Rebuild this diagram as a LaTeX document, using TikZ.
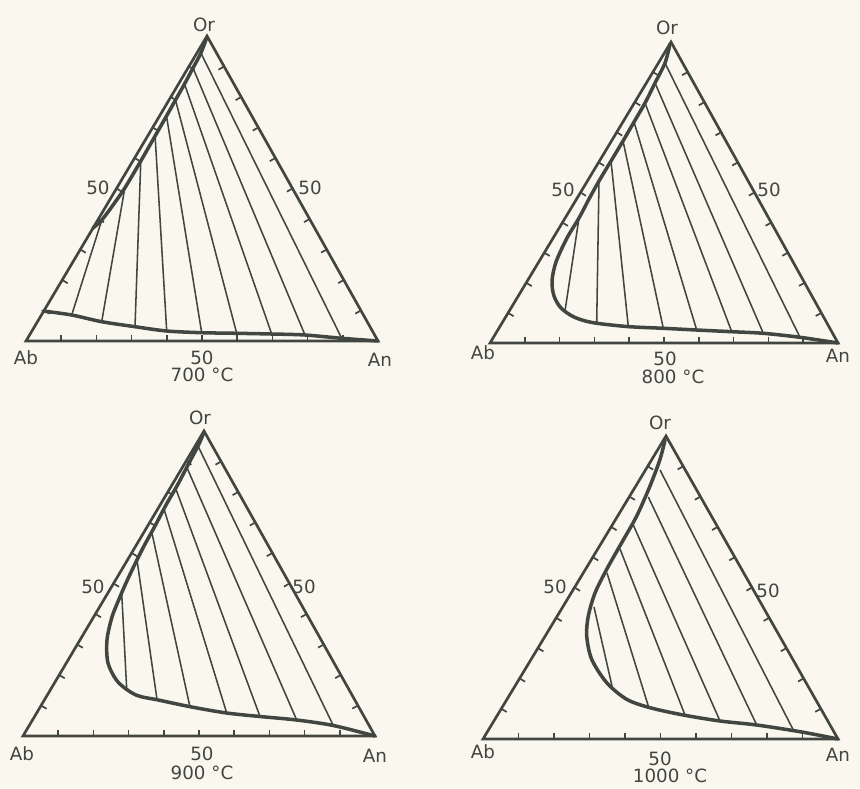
\documentclass[tikz,border=0pt]{standalone}
\usepackage{fontspec}
\setmainfont{DejaVu Sans}
\usepackage{tikz}
\usetikzlibrary{calc}
\definecolor{paper}{RGB}{250,248,238}
\definecolor{ink}{RGB}{66,70,64}

\begin{document}
\begin{tikzpicture}[
    x=0.025cm, y=-0.025cm,
    triside/.style={draw=ink, line width=1.9pt, line join=miter},
    tickmark/.style={draw=ink, line width=1.2pt},
    solvus/.style={draw=ink, line width=2.5pt, line cap=round, line join=round},
    tie/.style={draw=ink, line width=1.1pt},
    axislabel/.style={text=ink, font=\fontsize{13}{15}\selectfont, inner sep=0pt}
]
% Paper
\fill[paper] (0,0) rectangle (860,788);

% Corners
\coordinate (ab1) at (26,341);  \coordinate (an1) at (378,341); \coordinate (or1) at (207,36);
\coordinate (ab2) at (490,343); \coordinate (an2) at (838,343); \coordinate (or2) at (671,42);
\coordinate (ab3) at (23,736);  \coordinate (an3) at (375,736); \coordinate (or3) at (204,431);
\coordinate (ab4) at (483,739); \coordinate (an4) at (838,739); \coordinate (or4) at (666,436);

% Triangles and ticks
\foreach \t in {1,2,3,4} {
  \draw[triside] (ab\t) -- (an\t) -- (or\t) -- cycle;
  \foreach \i in {1,...,9} {
    \draw[tickmark] ($(ab\t)!\i/10!(an\t)$) -- ($(ab\t)!\i/10!(an\t)!0.16cm!90:(an\t)$);
    \draw[tickmark] ($(an\t)!\i/10!(or\t)$) -- ($(an\t)!\i/10!(or\t)!0.16cm!90:(or\t)$);
    \draw[tickmark] ($(or\t)!\i/10!(ab\t)$) -- ($(or\t)!\i/10!(ab\t)!0.16cm!90:(ab\t)$);
  }
}

% 700 °C
\draw[solvus] plot[smooth] coordinates {(93,228) (101.8,220) (114.5,203) (124.8,188) (140.8,161) (155.1,136) (166.5,116) (175.5,100) (184.5,84) (193,68) (200.9,53) (207,37)};
\draw[solvus] plot[smooth] coordinates {(43,311) (71.7,315) (101.7,321.7) (135,326.7) (166.7,331) (201.7,332.7) (236.7,333.3) (271.7,334) (305,335) (341.7,338.3) (378,341)};
\foreach \xa/\ya/\xb/\yb in {71.7/315/101.8/220, 101.7/321.7/124.8/188, 135/326.7/140.8/161,
    166.7/331/155.1/136, 201.7/332.7/166.5/116, 236.7/333.3/175.5/100, 271.7/334/184.5/84,
    305/335/193/68, 341.7/338.3/200.9/53}
  \draw[tie] (\xa,\ya) -- (\xb,\yb);

% 800 °C
\draw[solvus] plot[smooth] coordinates {(670,44) (665,63) (655,83) (645,103) (634,122) (623,141) (611,161) (599,181) (589,199) (579,218) (567,238) (556,262) (552,281) (554,296) (561,308) (574,317) (592,322.5) (626.7,326.5) (663.3,328.3) (696.7,330) (731.7,331.7) (763.3,333.3) (800,337.3) (838,343)};
\foreach \xa/\ya/\xb/\yb in {565/311/579/218, 596.7/322.8/599/181, 628.3/326.6/611/161,
    663.3/328.3/623/141, 696.7/330/634/122, 731.7/331.7/645/103, 763.3/333.3/655/83,
    800/337.3/665/63}
  \draw[tie] (\xa,\ya) -- (\xb,\yb);

% 900 °C
\draw[solvus] plot[smooth] coordinates {(204,432) (199,444) (189,463) (177.5,485) (166,505) (155,526) (144,546) (134,566) (126,583) (119.5,598) (112,617) (107,640) (108,663) (118,682) (136,695) (158.3,700) (191.7,707) (226.7,713) (260,716.5) (296.7,720) (333.3,725.5) (375,736)};
\foreach \xa/\ya/\xb/\yb in {126.7/689/121.7/593, 157/699.5/137/560, 190/707/151.7/532,
    226.7/713/164/509, 260/716.5/175.5/488, 296.7/720/186.7/467, 333.3/725.5/198/446}
  \draw[tie] (\xa,\ya) -- (\xb,\yb);

% 1000 °C
\draw[solvus] plot[smooth] coordinates {(665,440) (660,459.3) (650,486) (636.7,516) (621.7,542.7) (606.7,569.3) (595,593) (588.3,616) (586.7,636) (591.7,659.3) (606.7,682.7) (626.7,699.3) (650,707.7) (683.3,715) (720,721) (756.7,725) (801.7,732) (838,739)};
\foreach \xa/\ya/\xb/\yb in {612/686/594/607, 648.3/706/607/573, 685/715/620/549,
    720/721/633.3/525, 756.7/725/648.3/497, 793.3/730/660/470}
  \draw[tie] (\xa,\ya) -- (\xb,\yb);

% Labels
\node[axislabel] (tor1) at (204,25) {Or};
\node[axislabel] (tab1) at (26,358) {Ab};
\node[axislabel] (tan1) at (380,360) {An};
\node[axislabel] (bfifty1) at (202,358) {50};
\node[axislabel] (lfifty1) at (98,188) {50};
\node[axislabel] (rfifty1) at (310,188) {50};
\node[axislabel] (temp1) at (202,375) {700 °C};

\node[axislabel] (tor2) at (667,28) {Or};
\node[axislabel] (tab2) at (483,353) {Ab};
\node[axislabel] (tan2) at (838,356) {An};
\node[axislabel] (bfifty2) at (665,359) {50};
\node[axislabel] (lfifty2) at (563,190) {50};
\node[axislabel] (rfifty2) at (769,190) {50};
\node[axislabel] (temp2) at (673,377) {800 °C};

\node[axislabel] (tor3) at (200,418) {Or};
\node[axislabel] (tab3) at (22,754) {Ab};
\node[axislabel] (tan3) at (375,756) {An};
\node[axislabel] (bfifty3) at (202,754) {50};
\node[axislabel] (lfifty3) at (93,587) {50};
\node[axislabel] (rfifty3) at (304,587) {50};
\node[axislabel] (temp3) at (202,773) {900 °C};

\node[axislabel] (tor4) at (660,423) {Or};
\node[axislabel] (tab4) at (483,752) {Ab};
\node[axislabel] (tan4) at (838,755) {An};
\node[axislabel] (bfifty4) at (660,759) {50};
\node[axislabel] (lfifty4) at (555,587) {50};
\node[axislabel] (rfifty4) at (768,591) {50};
\node[axislabel] (temp4) at (670,776) {1000 °C};
\end{tikzpicture}
\end{document}
